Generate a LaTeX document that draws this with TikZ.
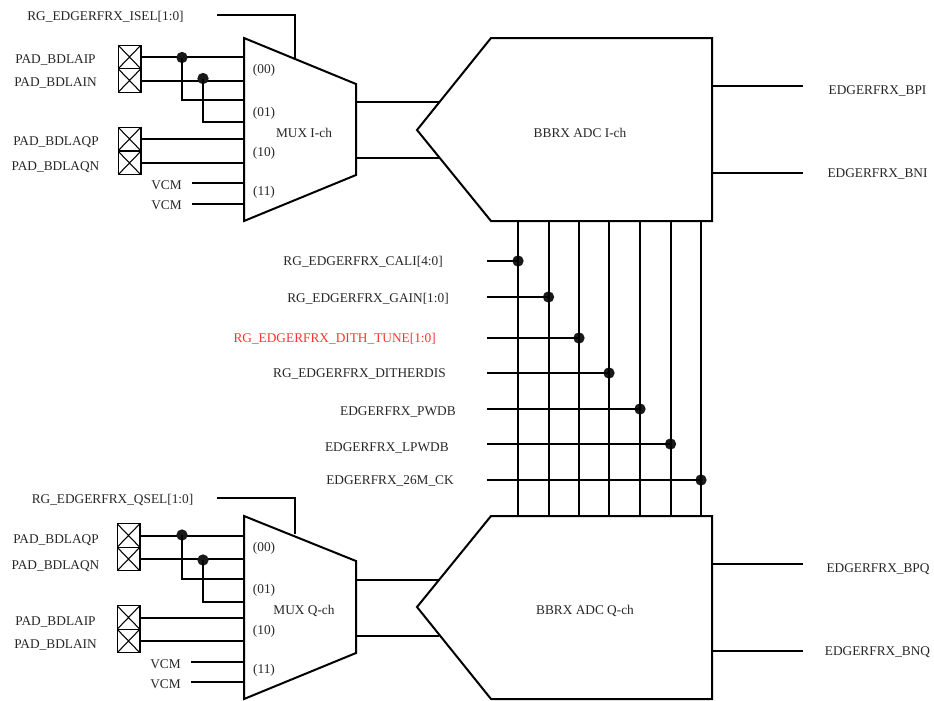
\documentclass[tikz,border=0pt]{standalone}
\usepackage{fontspec}
\setmainfont{Liberation Serif}
\usetikzlibrary{positioning, calc}

\begin{document}
\begin{tikzpicture}[
    x=0.75pt, y=-0.75pt,
    wire/.style={line width=1.5pt},
    outline/.style={line width=1.5pt, line join=miter},
    txt/.style={font=\fontsize{10}{12}\selectfont, text=black!85, inner sep=0pt, yshift=-0.75pt},
    sig/.style={txt, anchor=east},
    redsig/.style={sig, text={rgb,1:red,1;green,0.2;blue,0.2}},
    pad/.style={draw, line width=1pt, minimum width=17pt, minimum height=17.6pt, inner sep=0pt,
      path picture={\draw[line width=0.8pt] (path picture bounding box.north west) -- (path picture bounding box.south east)
        (path picture bounding box.south west) -- (path picture bounding box.north east);}},
    dot/.style={circle, fill=black!90, minimum size=8.5pt, inner sep=0pt},
  ]
  \useasboundingbox (0,0) rectangle (934,700);

  % --- MUX I-ch ---
  \coordinate (muxi_tl) at (244,38);
  \coordinate (muxi_tr) at (356,84);
  \coordinate (muxi_br) at (356,175);
  \coordinate (muxi_bl) at (244,221);
  \draw[outline] (muxi_tl) -- (muxi_tr) -- (muxi_br) -- (muxi_bl) -- cycle;
  \node[txt] (muxi) at (304,132) {MUX I-ch};
  \node[txt] (muxi_00) at (264,69) {(00)};
  \node[txt] (muxi_01) at (264,112) {(01)};
  \node[txt] (muxi_10) at (264,152) {(10)};
  \node[txt] (muxi_11) at (264,191) {(11)};

  % --- MUX Q-ch ---
  \coordinate (muxq_tl) at (244,516);
  \coordinate (muxq_tr) at (356,561);
  \coordinate (muxq_br) at (356,653);
  \coordinate (muxq_bl) at (244,699);
  \draw[outline] (muxq_tl) -- (muxq_tr) -- (muxq_br) -- (muxq_bl) -- cycle;
  \node[txt] (muxq) at (304,610) {MUX Q-ch};
  \node[txt] (muxq_00) at (264,547) {(00)};
  \node[txt] (muxq_01) at (264,589) {(01)};
  \node[txt] (muxq_10) at (264,630) {(10)};
  \node[txt] (muxq_11) at (264,669) {(11)};

  % --- ADC I-ch ---
  \coordinate (adci_tl) at (491,38);
  \coordinate (adci_tr) at (712,38);
  \coordinate (adci_br) at (712,221);
  \coordinate (adci_bl) at (491,221);
  \coordinate (adci_tip) at (417,130);
  \draw[outline] (adci_tl) -- (adci_tr) -- (adci_br) -- (adci_bl) -- (adci_tip) -- cycle;
  \node[txt] (adci) at (580,132) {BBRX ADC I-ch};

  % --- ADC Q-ch ---
  \coordinate (adcq_tl) at (491,516);
  \coordinate (adcq_tr) at (712,516);
  \coordinate (adcq_br) at (712,699);
  \coordinate (adcq_bl) at (491,699);
  \coordinate (adcq_tip) at (417,607);
  \draw[outline] (adcq_tl) -- (adcq_tr) -- (adcq_br) -- (adcq_bl) -- (adcq_tip) -- cycle;
  \node[txt] (adcq) at (585,610) {BBRX ADC Q-ch};

  % --- Pads I-ch ---
  \node[pad] (padi_ip) at (129.5,57) {};
  \node[pad] (padi_in) at (129.5,80.5) {};
  \node[pad] (padi_qp) at (129.5,139) {};
  \node[pad] (padi_qn) at (129.5,163) {};
  \node[txt] (lbli_ip) at (55.5,59) {PAD\_BDLAIP};
  \node[txt] (lbli_in) at (55.5,82) {PAD\_BDLAIN};
  \node[txt] (lbli_qp) at (56,141) {PAD\_BDLAQP};
  \node[txt] (lbli_qn) at (55.5,166) {PAD\_BDLAQN};

  % --- Pads Q-ch ---
  \node[pad] (padq_qp) at (128.5,535.5) {};
  \node[pad] (padq_qn) at (128.5,559) {};
  \node[pad] (padq_ip) at (128.5,617.5) {};
  \node[pad] (padq_in) at (128.5,641) {};
  \node[txt] (lblq_qp) at (56,539) {PAD\_BDLAQP};
  \node[txt] (lblq_qn) at (55.5,565) {PAD\_BDLAQN};
  \node[txt] (lblq_ip) at (55.5,621) {PAD\_BDLAIP};
  \node[txt] (lblq_in) at (55.5,644) {PAD\_BDLAIN};

  % --- Pad wires I-ch ---
  \draw[wire] (padi_ip.east) -- (padi_ip.east -| muxi_tl);
  \draw[wire] (padi_in.east) -- (padi_in.east -| muxi_tl);
  \draw[wire] (padi_qp.east) -- (padi_qp.east -| muxi_tl);
  \draw[wire] (padi_qn.east) -- (padi_qn.east -| muxi_tl);
  \node[dot] (dot_ip) at (182,57.5) {};
  \node[dot] (dot_in) at (203,78.5) {};
  \coordinate (muxi_c) at (244,100);
  \coordinate (muxi_d) at (244,122);
  \draw[wire] (dot_ip.center) |- (muxi_c);
  \draw[wire] (dot_in.center) |- (muxi_d);

  % --- Pad wires Q-ch ---
  \draw[wire] (padq_qp.east) -- (padq_qp.east -| muxq_tl);
  \draw[wire] (padq_qn.east) -- (padq_qn.east -| muxq_tl);
  \draw[wire] (padq_ip.east) -- (padq_ip.east -| muxq_tl);
  \draw[wire] (padq_in.east) -- (padq_in.east -| muxq_tl);
  \node[dot] (dot_qp) at (182,535) {};
  \node[dot] (dot_qn) at (203,560) {};
  \coordinate (muxq_c) at (244,579);
  \coordinate (muxq_d) at (244,602);
  \draw[wire] (dot_qp.center) |- (muxq_c);
  \draw[wire] (dot_qn.center) |- (muxq_d);

  % --- VCM ---
  \node[sig] (vcmi_a) at (182,184) {VCM};
  \node[sig] (vcmi_b) at (182,204) {VCM};
  \node[sig] (vcmq_a) at (181,663) {VCM};
  \node[sig] (vcmq_b) at (181,683) {VCM};
  \coordinate (vcmi_as) at (192,183);
  \coordinate (vcmi_bs) at (192,204);
  \coordinate (vcmq_as) at (191,662);
  \coordinate (vcmq_bs) at (191,682);
  \draw[wire] (vcmi_as) -- (vcmi_as -| muxi_tl);
  \draw[wire] (vcmi_bs) -- (vcmi_bs -| muxi_tl);
  \draw[wire] (vcmq_as) -- (vcmq_as -| muxq_tl);
  \draw[wire] (vcmq_bs) -- (vcmq_bs -| muxq_tl);

  % --- Select lines ---
  \node[txt] (isel) at (105.5,16) {RG\_EDGERFRX\_ISEL[1:0]};
  \node[txt] (qsel) at (112.5,499) {RG\_EDGERFRX\_QSEL[1:0]};
  \coordinate (isel_s) at (217,15);
  \coordinate (isel_e) at (295,58);
  \coordinate (qsel_s) at (217,498);
  \coordinate (qsel_e) at (295,534);
  \draw[wire] (isel_s) -| (isel_e);
  \draw[wire] (qsel_s) -| (qsel_e);

  % --- MUX to ADC ---
  \coordinate (adci_a) at (439.5,102);
  \coordinate (adci_b) at (439,158);
  \coordinate (adcq_a) at (440,580);
  \coordinate (adcq_b) at (439,636);
  \draw[wire] (adci_a -| muxi_tr) -- (adci_a);
  \draw[wire] (adci_b -| muxi_tr) -- (adci_b);
  \draw[wire] (adcq_a -| muxq_tr) -- (adcq_a);
  \draw[wire] (adcq_b -| muxq_tr) -- (adcq_b);

  % --- ADC outputs ---
  \node[txt] (bpi) at (877.5,90) {EDGERFRX\_BPI};
  \node[txt] (bni) at (877.5,173) {EDGERFRX\_BNI};
  \node[txt] (bpq) at (878,568) {EDGERFRX\_BPQ};
  \node[txt] (bnq) at (877.5,651) {EDGERFRX\_BNQ};
  \coordinate (bpi_e) at (803,86);
  \coordinate (bni_e) at (803,173);
  \coordinate (bpq_e) at (803,564);
  \coordinate (bnq_e) at (803,651);
  \draw[wire] (bpi_e -| adci_tr) -- (bpi_e);
  \draw[wire] (bni_e -| adci_tr) -- (bni_e);
  \draw[wire] (bpq_e -| adcq_tr) -- (bpq_e);
  \draw[wire] (bnq_e -| adcq_tr) -- (bnq_e);

  % --- Control signals ---
  \node[sig] (cali) at (443,261) {RG\_EDGERFRX\_CALI[4:0]};
  \node[sig] (gain) at (449,298) {RG\_EDGERFRX\_GAIN[1:0]};
  \node[redsig] (tune) at (436,338) {RG\_EDGERFRX\_DITH\_TUNE[1:0]};
  \node[sig] (ddis) at (446,373) {RG\_EDGERFRX\_DITHERDIS};
  \node[sig] (pwdb) at (456,411) {EDGERFRX\_PWDB};
  \node[sig] (lpwdb) at (449,447) {EDGERFRX\_LPWDB};
  \node[sig] (ck) at (454,480) {EDGERFRX\_26M\_CK};

  \node[dot] (dot_cali) at (518,261) {};
  \node[dot] (dot_gain) at (548.5,297) {};
  \node[dot] (dot_tune) at (579,338) {};
  \node[dot] (dot_ddis) at (609,373) {};
  \node[dot] (dot_pwdb) at (640,409) {};
  \node[dot] (dot_lpwdb) at (670.5,444) {};
  \node[dot] (dot_ck) at (701,480) {};

  \coordinate (ctl_x) at (487,0);
  \foreach \n in {cali, gain, tune, ddis, pwdb, lpwdb, ck} {
    \draw[wire] (dot_\n.center -| ctl_x) -- (dot_\n.center);
    \draw[wire] (dot_\n.center |- adci_bl) -- (dot_\n.center |- adcq_tl);
  }

\end{tikzpicture}
\end{document}
